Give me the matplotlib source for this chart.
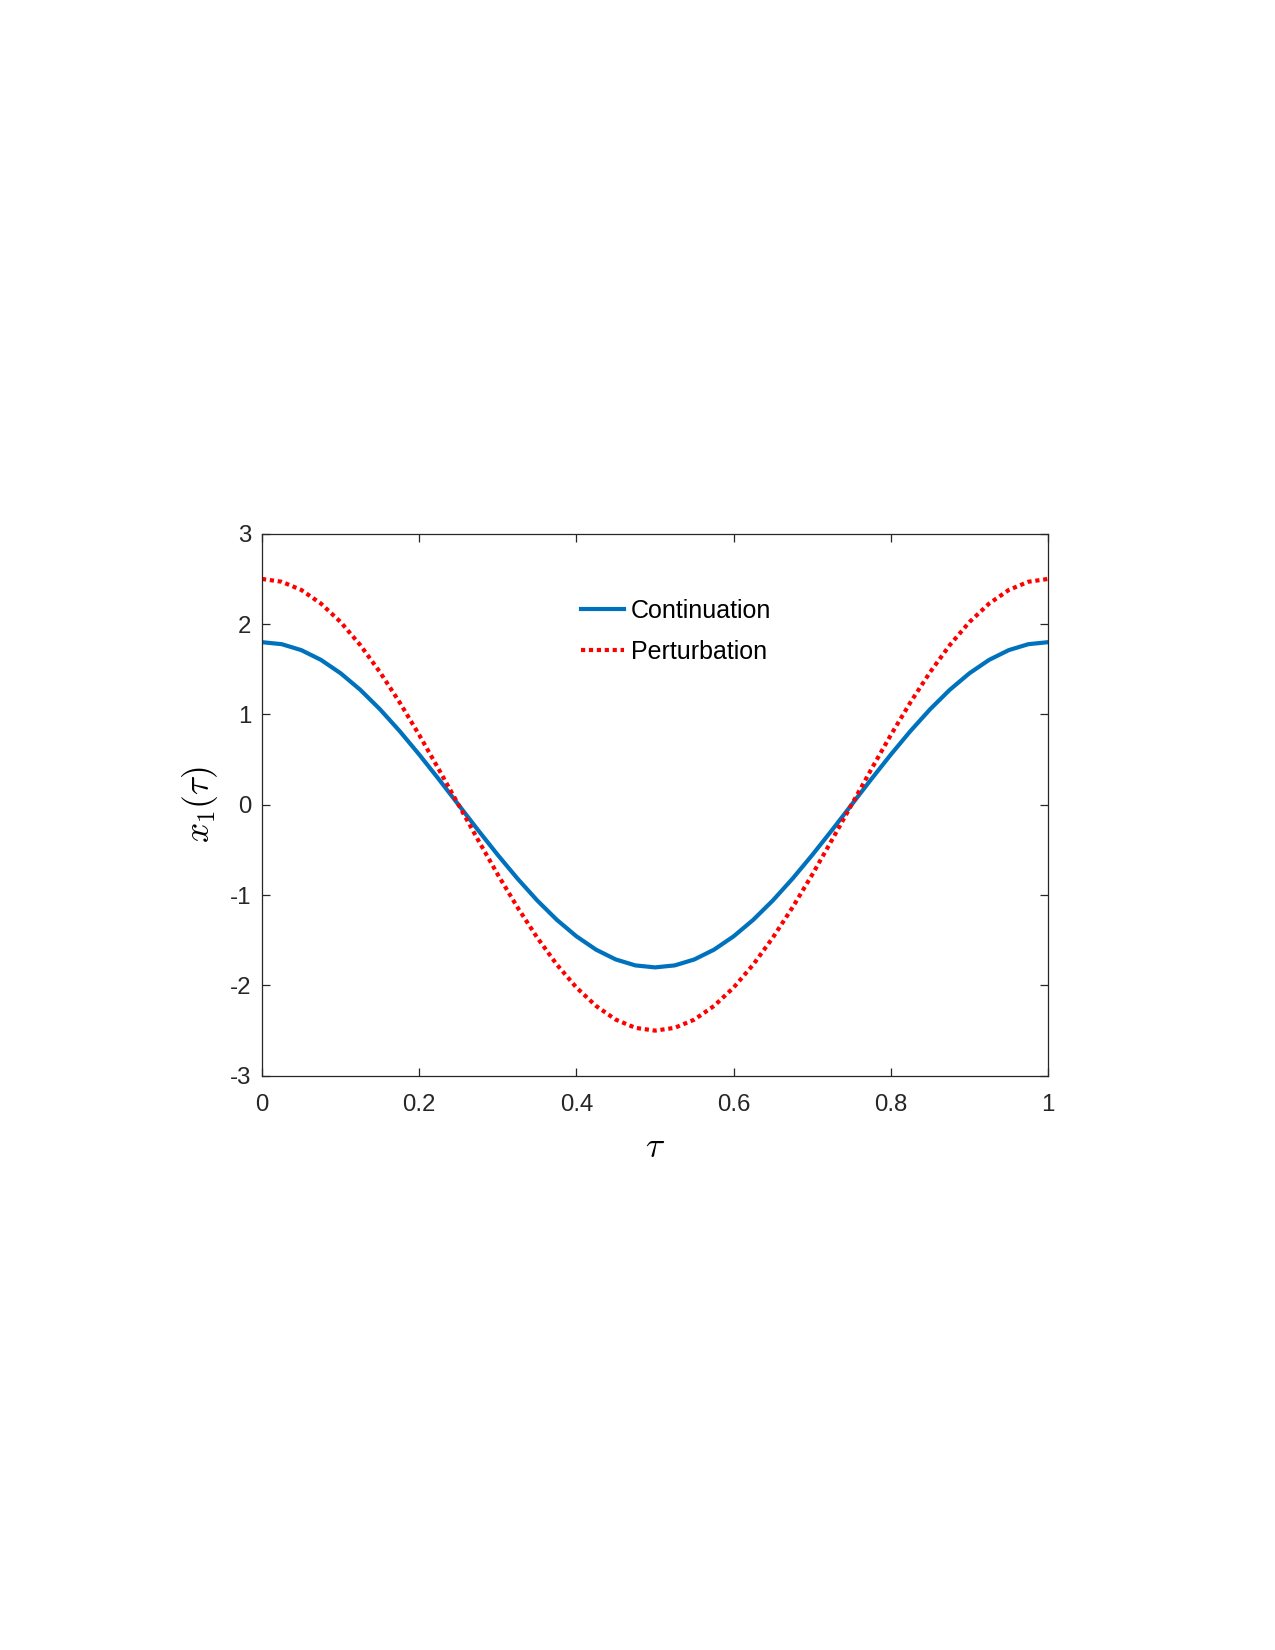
import matplotlib
matplotlib.use("Agg")
import matplotlib.pyplot as plt

plt.rcParams['font.family'] = ['Liberation Sans', 'DejaVu Sans']
plt.rcParams['mathtext.fontset'] = 'cm'
plt.rcParams['axes.unicode_minus'] = False

# sample points in tau
tau = [i / 40 for i in range(41)]

continuation = [1.8, 1.778, 1.712, 1.604, 1.456, 1.273, 1.058, 0.817, 0.556, 0.282,
                0.0, -0.282, -0.556, -0.817, -1.058, -1.273, -1.456, -1.604, -1.712, -1.778,
                -1.8, -1.778, -1.712, -1.604, -1.456, -1.273, -1.058, -0.817, -0.556, -0.282,
                0.0, 0.282, 0.556, 0.817, 1.058, 1.273, 1.456, 1.604, 1.712, 1.778, 1.8]

perturbation = [2.5, 2.469, 2.378, 2.227, 2.023, 1.768, 1.469, 1.135, 0.773, 0.391,
                0.0, -0.391, -0.773, -1.135, -1.469, -1.768, -2.023, -2.227, -2.378, -2.469,
                -2.5, -2.469, -2.378, -2.227, -2.023, -1.768, -1.469, -1.135, -0.773, -0.391,
                0.0, 0.391, 0.773, 1.135, 1.469, 1.768, 2.023, 2.227, 2.378, 2.469, 2.5]

xticks = [0, 0.2, 0.4, 0.6, 0.8, 1]
xticklabels = ['0', '0.2', '0.4', '0.6', '0.8', '1']
yticks = [-3, -2, -1, 0, 1, 2, 3]
yticklabels = ['-3', '-2', '-1', '0', '1', '2', '3']

fig = plt.figure(figsize=(8.5, 11), dpi=150)
ax = fig.add_axes([0.2055, 0.348, 0.6165, 0.3285])

ax.plot(tau, continuation, color='#0072BD', lw=2.0, label='Continuation')
ax.plot(tau, perturbation, color='red', lw=2.0, ls=(0, (1, 0.9)), label='Perturbation')

ax.set_xlim(0, 1)
ax.set_ylim(-3, 3)
ax.set_xticks(xticks)
ax.set_xticklabels(xticklabels)
ax.set_yticks(yticks)
ax.set_yticklabels(yticklabels)
ax.tick_params(direction='in', top=True, right=True, length=4, width=0.6,
               labelsize=11.5, colors='#262626', pad=5)
ax.tick_params(axis='x', pad=8.5)
for s in ax.spines.values():
    s.set_linewidth(0.6)
    s.set_color('#262626')

ax.set_xlabel(r'$\tau$', fontsize=17, labelpad=7.5)
ax.set_ylabel(r'$x_1(\tau)$', fontsize=17, labelpad=5)

ax.legend(loc='upper left', bbox_to_anchor=(0.39, 0.903), frameon=False,
          fontsize=12, handlelength=1.7, handletextpad=0.3, labelspacing=0.68,
          borderpad=0)

fig.savefig('out.png', dpi=150)
